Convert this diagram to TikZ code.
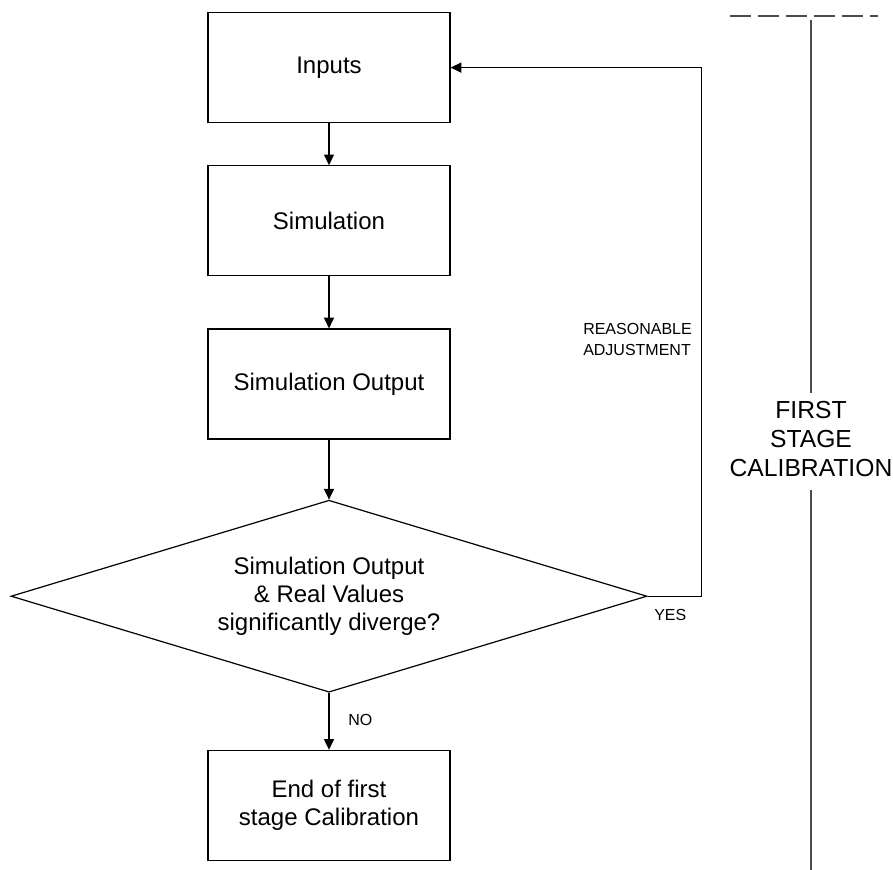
\documentclass[tikz,border=0pt]{standalone}
\usepackage{fontspec}
\setmainfont{Liberation Sans}
\usetikzlibrary{arrows.meta,positioning,shapes.geometric}
\tikzset{
  box/.style={draw, rectangle, align=center, minimum width=181.5pt, minimum height=82.5pt, line width=0.9pt, font=\fontsize{18}{21}\selectfont},
  decision/.style={draw, diamond, aspect=3.3, align=center, inner sep=0pt, minimum width=477pt, minimum height=144pt, line width=0.9pt, font=\fontsize{18}{21}\selectfont},
  note/.style={font=\fontsize{12}{15.75}\selectfont, align=left, inner sep=0pt},
  arrow/.style={-{Triangle[length=8pt, width=7.5pt]}, line width=0.9pt},
  rail/.style={draw=black!70, line width=1pt},
}
\begin{document}
\begin{tikzpicture}[x=0.75pt, y=0.75pt]
  \useasboundingbox (0,0) rectangle (893,-870);
  \node[box, anchor=north] (inputs) at (329,-12) {Inputs};
  \node[box, below=31.5pt of inputs] (sim) {Simulation};
  \node[box, below=39pt of sim] (simout) {Simulation Output};
  \node[decision, below=45pt of simout] (check) {Simulation Output\\ \& Real Values\\ significantly diverge?};
  \node[box, below=42.75pt of check] (finish) {End of first\\stage Calibration};

  \draw[arrow] (inputs) -- (sim);
  \draw[arrow] (sim) -- (simout);
  \draw[arrow] (simout) -- (check);
  \draw[arrow] (check) -- (finish);
  \draw[arrow] (check.east) -- ++(40.5pt,0) |- (inputs.east);

  \node[note, anchor=west] (adjust) at (583,-339) {REASONABLE\\ADJUSTMENT};
  \node[note, anchor=west] (yes) at (654,-615) {YES};
  \node[note, anchor=west] (no) at (348,-720) {NO};

  % stage marker on the right
  \node[align=center, inner sep=0pt, font=\fontsize{18.5}{21.75}\selectfont] (stage) at (811,-439) {FIRST\\STAGE\\CALIBRATION};
  \coordinate (railtop) at (811,-20);
  \coordinate (railbot) at (811,-870);
  \coordinate (dashl) at (730,-16);
  \coordinate (dashr) at (878,-16);
  \draw[rail] (railtop) -- ([yshift=6pt]stage.north);
  \draw[rail] ([yshift=-10pt]stage.south) -- (railbot);
  \draw[rail, dash pattern=on 16pt off 5pt] (dashl) -- (dashr);
\end{tikzpicture}
\end{document}
